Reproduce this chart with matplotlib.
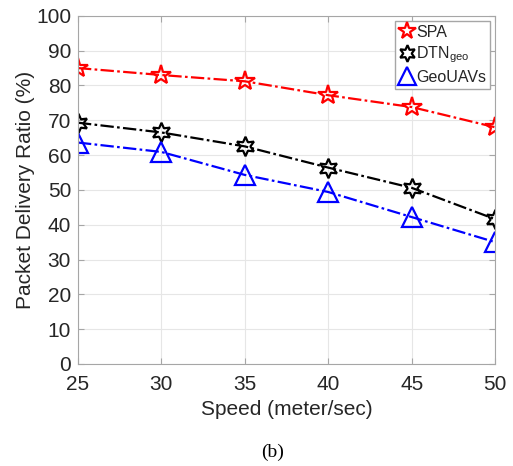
import numpy as np
import matplotlib.pyplot as plt
from matplotlib.lines import Line2D

speed = [25, 30, 35, 40, 45, 50]
spa = [85.0, 83.0, 81.2, 77.2, 73.8, 68.0]
dtn_geo = [69.3, 66.5, 62.5, 56.4, 50.6, 41.6]
geo_uavs = [63.6, 60.9, 54.3, 49.4, 42.2, 35.0]

names = ["SPA", "DTN$_{\\mathregular{geo}}$", "GeoUAVs"]
colors = ["#ff0000", "#000000", "#0000ff"]
markers = ["*", (6, 1, 0), "^"]
sizes = [15, 14, 15]

plt.rcParams["font.family"] = ["Liberation Sans", "DejaVu Sans"]
plt.rcParams["mathtext.fontset"] = "custom"
plt.rcParams["mathtext.rm"] = "Liberation Sans"

fig = plt.figure(figsize=(5.13, 4.66), dpi=100)
ax = fig.add_axes([0.152, 0.219, 0.813, 0.747])

handles = []
for vals, name, c, m, s in zip([spa, dtn_geo, geo_uavs], names, colors, markers, sizes):
    ax.plot(speed, vals, linestyle=(0, (6, 1.5, 1.2, 1.5)), color=c, lw=1.6,
            marker=m, markersize=s, markerfacecolor="none", markeredgewidth=1.6)
    handles.append(Line2D([], [], linestyle="none", color=c, marker=m,
                          markersize=s - 2, markerfacecolor="none",
                          markeredgewidth=1.6, label=name))

ax.set_xlim(25, 50)
ax.set_ylim(0, 100)
ax.set_xticks(np.arange(25, 51, 5))
ax.set_yticks(np.arange(0, 101, 10))
ax.grid(True, color="#e6e6e6", lw=0.8)
ax.set_axisbelow(True)
for sp in ax.spines.values():
    sp.set_color("#a6a6a6")
ax.tick_params(direction="in", length=4, color="#a6a6a6", labelsize=15,
               labelcolor="#262626", top=True, right=True)
ax.tick_params(axis="x", pad=8)
ax.tick_params(axis="y", pad=5)
ax.set_xlabel("Speed (meter/sec)", fontsize=15, color="#262626", labelpad=4)
ax.set_ylabel("Packet Delivery Ratio (%)", fontsize=15, color="#262626", labelpad=1)

leg = ax.legend(handles=handles, loc="upper right", fontsize=11.5,
                handlelength=1.0, handletextpad=0.05, borderpad=0.25,
                labelspacing=0.3, borderaxespad=0.3, fancybox=False,
                framealpha=1, edgecolor="#a6a6a6")
for t in leg.get_texts():
    t.set_color("#262626")

fig.text(0.532, 0.03, "(b)", ha="center", va="center", fontsize=14,
         family="Liberation Serif")

fig.savefig("out.png", dpi=100)
